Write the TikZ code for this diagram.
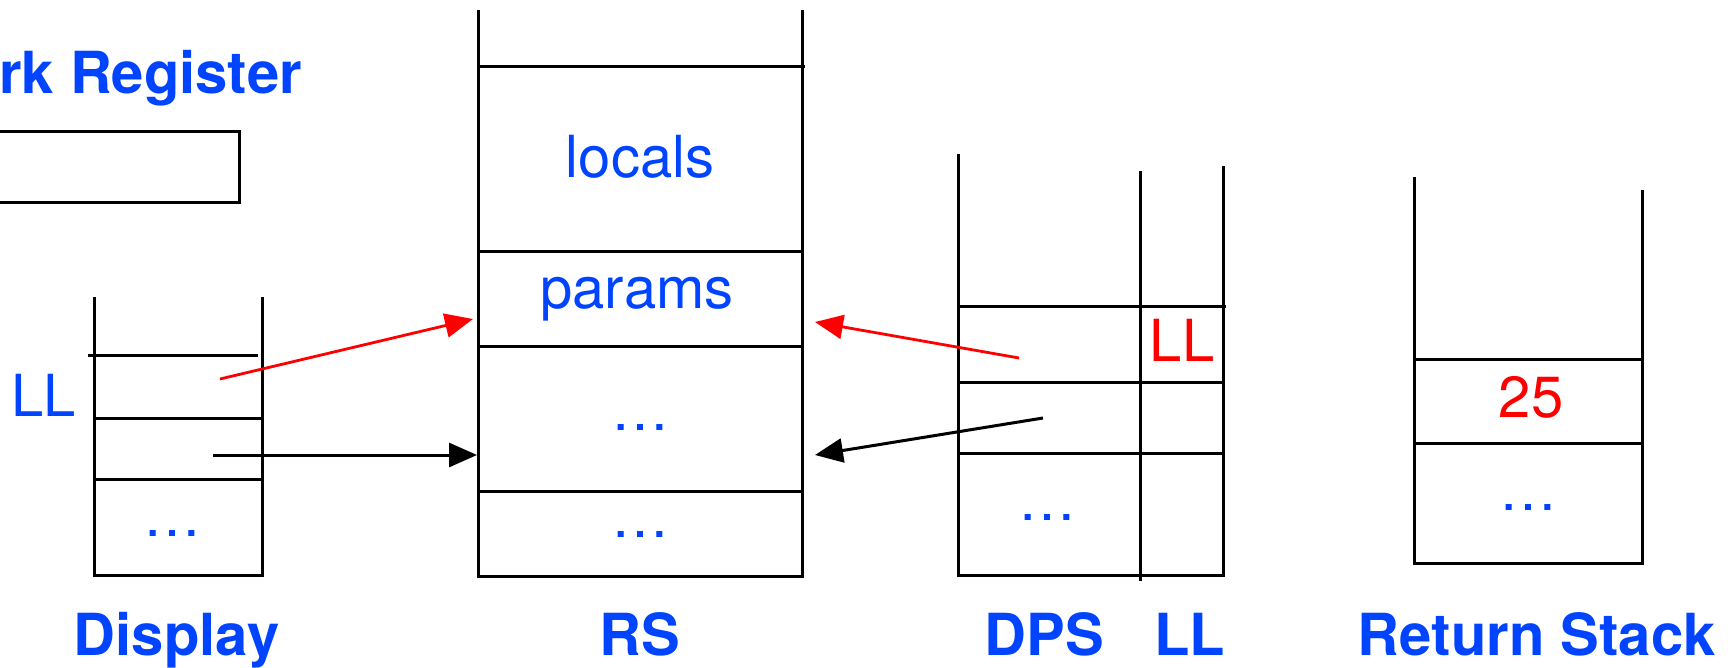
\documentclass[tikz,border=0pt]{standalone}
\usepackage{fontspec}
\setmainfont{TeX Gyre Heros}
\usetikzlibrary{arrows.meta}
\definecolor{labelblue}{RGB}{0,68,255}
\definecolor{ptrred}{RGB}{255,0,0}
\begin{document}
\begin{tikzpicture}[x=1pt,y=-1pt,
  wall/.style={line width=3pt, black},
  txt/.style={inner sep=0pt, anchor=base, font=\fontsize{58}{60}\selectfont},
  cell/.style={txt, text=labelblue},
  hot/.style={txt, text=ptrred},
  title/.style={txt, text=labelblue, font=\fontsize{58}{60}\selectfont\bfseries},
  ptr/.style={line width=3pt, black, -{Triangle[length=28pt,width=24pt]}},
  redptr/.style={ptr, draw=ptrred, fill=ptrred, line width=2.8pt}]
\useasboundingbox (0,0) rectangle (1733,667);
\clip (0,0) rectangle (1733,667);

% work register
\node[title, anchor=base east] (workreg) at (302,93) {Work Register};
\draw[wall] (-20,131) rectangle (239,202);

% display
\draw[wall] (94,297) -- (94,575) -- (262,575) -- (262,297);
\draw[wall] (88,355) -- (258,355);
\draw[wall] (94,418) -- (262,418);
\draw[wall] (94,479) -- (262,479);
\node[cell] (lltag) at (44,416) {LL};
\node[cell] (dispdots) at (172,536) {…};
\node[title] (displabel) at (176.5,655.5) {Display};

% run-time stack
\draw[wall] (478,10) -- (478,576) -- (802,576) -- (802,10);
\draw[wall] (478,66) -- (805,66);
\draw[wall] (478,251) -- (802,251);
\draw[wall] (478,346) -- (802,346);
\draw[wall] (478,491) -- (802,491);
\node[cell] (locals) at (640,177) {locals};
\node[cell] (params) at (637,308) {params};
\node[cell] (rsdotsA) at (640,430) {…};
\node[cell] (rsdotsB) at (640,537) {…};
\node[title] (rslabel) at (640,655.5) {RS};

% DPS with its LL column
\draw[wall] (958,154) -- (958,575) -- (1223,575) -- (1223,166);
\draw[wall] (1140,171) -- (1140,581);
\draw[wall] (958,306) -- (1226,306);
\draw[wall] (958,382) -- (1223,382);
\draw[wall] (958,453) -- (1223,453);
\node[hot] (llred) at (1182,361) {LL};
\node[cell] (dpsdots) at (1047,520) {…};
\node[title] (dpslabel) at (1044.5,655.5) {DPS};
\node[title] (lllabel) at (1189.5,655.5) {LL};

% return stack
\draw[wall] (1414,177) -- (1414,563) -- (1642,563) -- (1642,190);
\draw[wall] (1414,359) -- (1642,359);
\draw[wall] (1414,443) -- (1642,443);
\node[hot] (ret) at (1531,417) {25};
\node[cell] (retdots) at (1528,510) {…};
\node[title] (retlabel) at (1537,655.5) {Return Stack};

% pointers
\coordinate (dispA) at (220,379);
\coordinate (rsA) at (473,319);
\coordinate (dispB) at (213,455);
\coordinate (rsB) at (477,455);
\coordinate (dpsA) at (1019,358);
\coordinate (rsC) at (815,322);
\coordinate (dpsB) at (1043,418);
\coordinate (rsD) at (815,455);
\draw[redptr] (dispA) -- (rsA);
\draw[ptr] (dispB) -- (rsB);
\draw[redptr] (dpsA) -- (rsC);
\draw[ptr] (dpsB) -- (rsD);
\end{tikzpicture}
\end{document}
